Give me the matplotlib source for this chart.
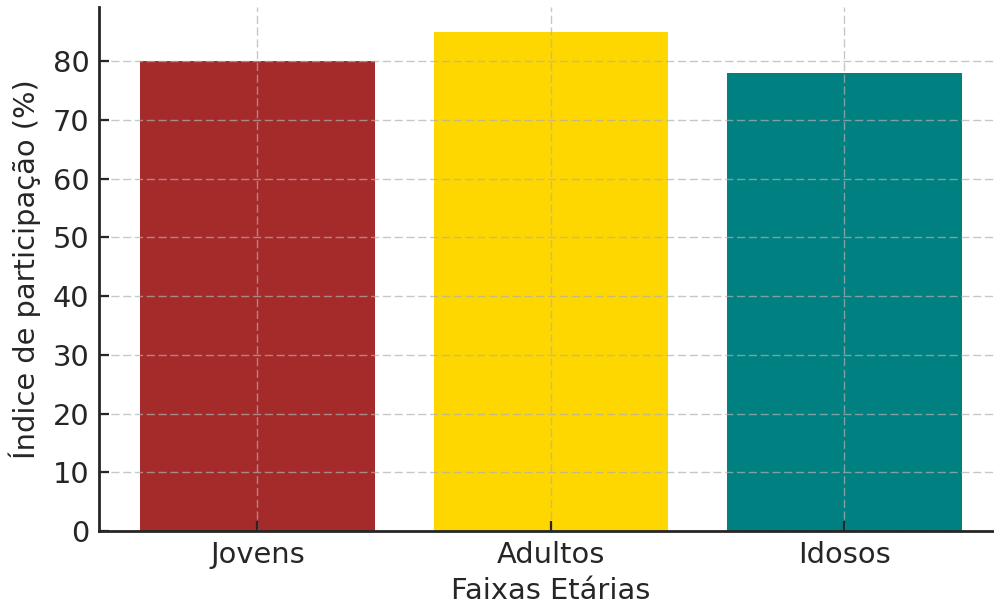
import matplotlib.pyplot as plt

faixas = ["Jovens", "Adultos", "Idosos"]
participacao = [80, 85, 78]
cores = ["#A52A2A", "#FFD700", "#008080"]

plt.rcParams["font.size"] = 10.4
plt.rcParams["text.color"] = "#262626"
plt.rcParams["axes.labelcolor"] = "#262626"
plt.rcParams["axes.edgecolor"] = "#262626"
plt.rcParams["xtick.color"] = "#262626"
plt.rcParams["ytick.color"] = "#262626"
plt.rcParams["xtick.direction"] = "in"
plt.rcParams["ytick.direction"] = "in"

fig = plt.figure(figsize=(4.97, 3.03), dpi=200)
ax = fig.add_axes([0.0996, 0.1238, 0.9094, 0.8646])

ax.bar(faixas, participacao, color=cores)
ax.set_xlabel("Faixas Etárias", labelpad=3)
ax.set_ylabel("Índice de participação (%)")
ax.grid(True, linestyle=(0, (5.9, 2.6)), linewidth=0.5, color="#b0b0b0", alpha=0.7)
ax.spines["top"].set_visible(False)
ax.spines["right"].set_visible(False)
for s in ["left", "bottom"]:
    ax.spines[s].set_linewidth(1.0)

fig.savefig("out.png", dpi=200)
